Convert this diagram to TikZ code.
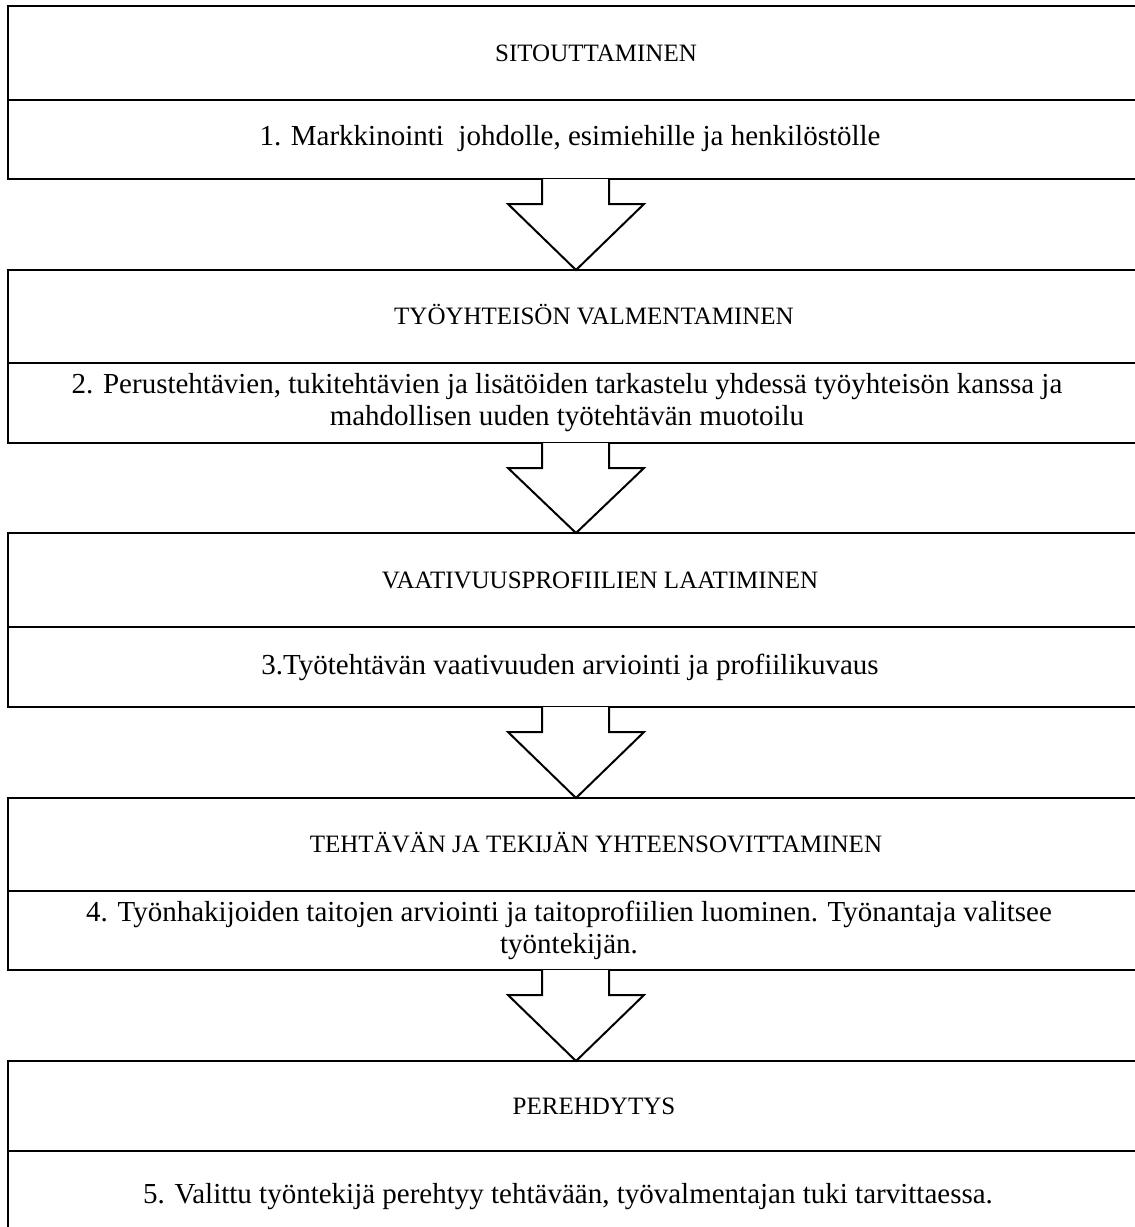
\documentclass[tikz,border=0pt]{standalone}
\usepackage{fontspec}
\setmainfont{Liberation Serif}
\newcommand\FatArrow[2]{% #1 = top y (box bottom), #2 = tip y (next box top)
  \draw[arr] (542,#1) -- (542,#1+25) -- (508,#1+25) -- (576,#2) -- (644,#1+25) -- (609,#1+25) -- (609,#1);}
\begin{document}
\begin{tikzpicture}[x=0.5pt,y=-0.5pt,
  frame/.style={line width=1.4pt},
  sep/.style={line width=1.2pt},
  arr/.style={line width=1pt, fill=white, line join=miter},
  head/.style={font=\fontsize{12.5}{16}\selectfont, inner sep=0pt, anchor=base},
  body/.style={font=\fontsize{14.5}{16}\selectfont, align=center, inner sep=0pt}]
\useasboundingbox (0,0) rectangle (1135,1227);
\clip (0,0) rectangle (1135,1227);
% boxes
\draw[frame] (8,6) rectangle (1150,179);
\draw[sep] (8,100) -- (1150,100);
\draw[frame] (8,270) rectangle (1150,443);
\draw[sep] (8,363) -- (1150,363);
\draw[frame] (8,533) rectangle (1150,707);
\draw[sep] (8,627) -- (1150,627);
\draw[frame] (8,798) rectangle (1150,970);
\draw[sep] (8,891) -- (1150,891);
\draw[frame] (8,1061) rectangle (1150,1260);
\draw[sep] (8,1151) -- (1150,1151);
% arrows
\FatArrow{179}{270}
\FatArrow{443}{533}
\FatArrow{707}{798}
\FatArrow{970}{1061}
% texts
\node[head] (h1) at (596,61) {SITOUTTAMINEN};
\node[body] (t1) at (570,139) {1. Markkinointi\ \ johdolle, esimiehille ja henkilöstölle};
\node[head] (h2) at (594,324) {TYÖYHTEISÖN VALMENTAMINEN};
\node[body] (t2) at (567,403) {2. Perustehtävien, tukitehtävien ja lisätöiden tarkastelu yhdessä työyhteisön kanssa ja\\mahdollisen uuden työtehtävän muotoilu};
\node[head] (h3) at (600,588) {VAATIVUUSPROFIILIEN LAATIMINEN};
\node[body] (t3) at (570,667) {3.Työtehtävän vaativuuden arviointi ja profiilikuvaus};
\node[head] (h4) at (596,852) {TEHTÄVÄN JA TEKIJÄN YHTEENSOVITTAMINEN};
\node[body] (t4) at (569,930) {4. Työnhakijoiden taitojen arviointi ja taitoprofiilien luominen. Työnantaja valitsee\\työntekijän.};
\node[head] (h5) at (594,1114) {PEREHDYTYS};
\node[body] (t5) at (568,1197) {5. Valittu työntekijä perehtyy tehtävään, työvalmentajan tuki tarvittaessa.};
\end{tikzpicture}
\end{document}
